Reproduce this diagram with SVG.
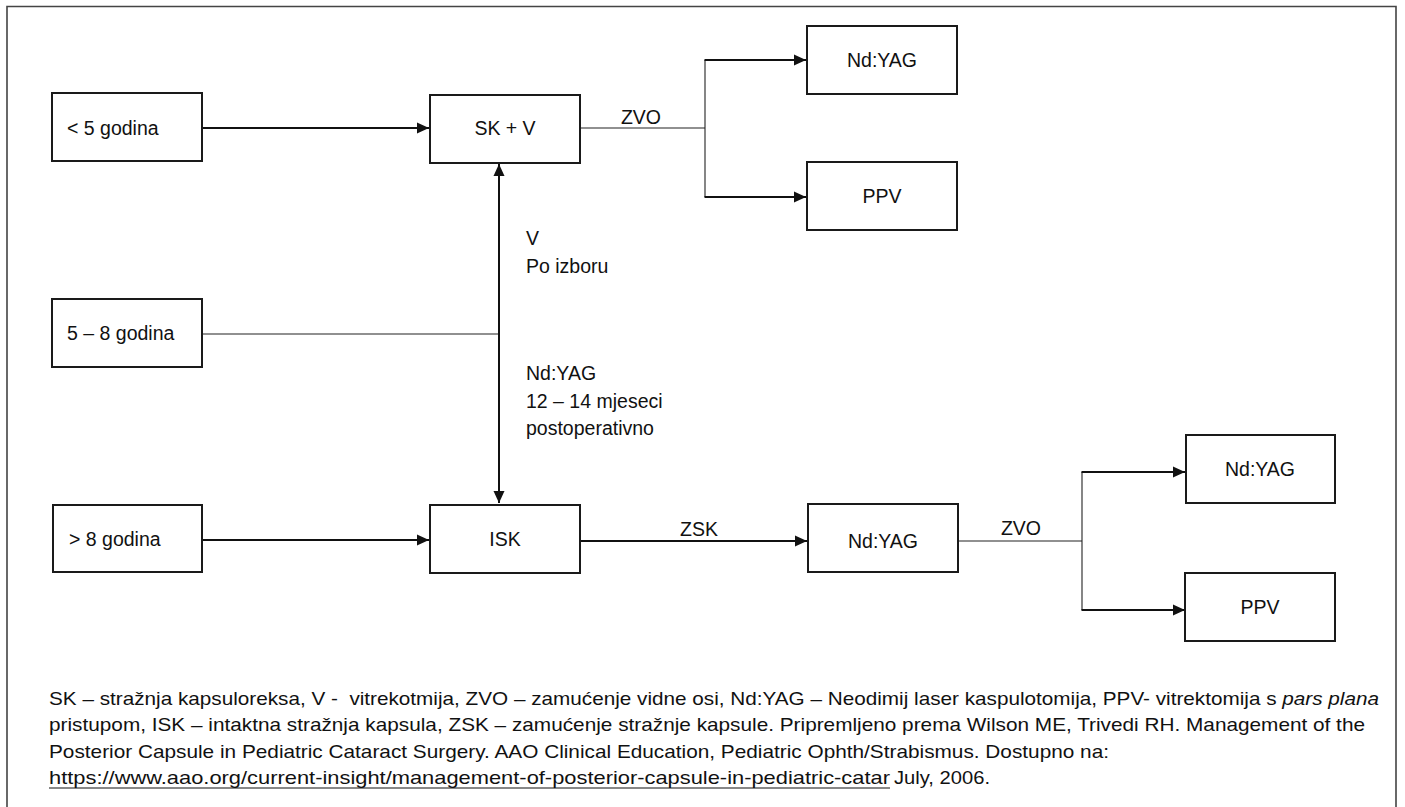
<svg xmlns="http://www.w3.org/2000/svg" width="1405" height="807" viewBox="0 0 1405 807">
<style>
text{font-family:"Liberation Sans",Arial,sans-serif;fill:#111;font-size:19.5px}
.box{fill:#fff;stroke:#1a1a1a;stroke-width:2}
.c{text-anchor:middle}
.thick{stroke:#111;stroke-width:2;fill:none}
.thin{stroke:#222;stroke-width:1.1;fill:none}
.note{font-size:19px}
</style>
<defs>
<marker id="ah" markerUnits="userSpaceOnUse" markerWidth="12" markerHeight="12" viewBox="0 0 12 12" refX="12" refY="6" orient="auto-start-reverse">
<path d="M0,0.5 L12,6 L0,11.5 z" fill="#111"/>
</marker>
</defs>
<rect width="1405" height="807" fill="#fff"/>
<path d="M7,812 V6.5 H1396 V812" fill="none" stroke="#444" stroke-width="1.6"/>

<g id="connectors">
<line class="thick" x1="202" y1="128" x2="429" y2="128" marker-end="url(#ah)"/>
<line class="thin" x1="580" y1="128" x2="705" y2="128"/>
<line class="thin" x1="705" y1="60" x2="705" y2="197"/>
<line class="thick" x1="704.5" y1="60" x2="806" y2="60" marker-end="url(#ah)"/>
<line class="thick" x1="704.5" y1="197" x2="806" y2="197" marker-end="url(#ah)"/>
<line class="thin" x1="202" y1="334" x2="499" y2="334"/>
<line class="thick" x1="499" y1="164" x2="499" y2="503" marker-start="url(#ah)" marker-end="url(#ah)"/>
<line class="thick" x1="202" y1="540" x2="429" y2="540" marker-end="url(#ah)"/>
<line class="thick" x1="580" y1="541" x2="807" y2="541" marker-end="url(#ah)"/>
<line class="thin" x1="959" y1="541" x2="1082" y2="541"/>
<line class="thin" x1="1082" y1="472" x2="1082" y2="610"/>
<line class="thick" x1="1081.5" y1="472" x2="1185" y2="472" marker-end="url(#ah)"/>
<line class="thick" x1="1081.5" y1="610" x2="1185" y2="610" marker-end="url(#ah)"/>
<text x="641" y="124" class="c">ZVO</text>
<text x="526" y="245">V</text>
<text x="526" y="273">Po izboru</text>
<text x="526" y="380">Nd:YAG</text>
<text x="526" y="408">12 – 14 mjeseci</text>
<text x="526" y="435">postoperativno</text>
<text x="699" y="536" class="c">ZSK</text>
<text x="1021" y="535" class="c">ZVO</text>
</g>

<g id="n_lt5"><rect class="box" x="52" y="93" width="150" height="68"/><text x="67" y="135">&lt; 5 godina</text></g>
<g id="n_5to8"><rect class="box" x="52" y="299" width="150" height="68"/><text x="67" y="340">5 – 8 godina</text></g>
<g id="n_gt8"><rect class="box" x="53" y="505" width="149" height="67"/><text x="69" y="546">&gt; 8 godina</text></g>
<g id="n_skv"><rect class="box" x="430" y="95" width="150" height="68"/><text x="505" y="135" class="c">SK + V</text></g>
<g id="n_isk"><rect class="box" x="430" y="505" width="150" height="68"/><text x="505" y="546" class="c">ISK</text></g>
<g id="n_ndyag1"><rect class="box" x="807" y="26" width="150" height="68"/><text x="882" y="67" class="c">Nd:YAG</text></g>
<g id="n_ppv1"><rect class="box" x="807" y="162" width="150" height="68"/><text x="882" y="203" class="c">PPV</text></g>
<g id="n_ndyag2"><rect class="box" x="808" y="504" width="150" height="68"/><text x="883" y="548" class="c">Nd:YAG</text></g>
<g id="n_ndyag3"><rect class="box" x="1186" y="435" width="149" height="68"/><text x="1260" y="476" class="c">Nd:YAG</text></g>
<g id="n_ppv2"><rect class="box" x="1185" y="573" width="150" height="68"/><text x="1260" y="614" class="c">PPV</text></g>

<g id="footnote">
<text class="note" x="49" y="705" xml:space="preserve" textLength="1330" lengthAdjust="spacingAndGlyphs">SK – stražnja kapsuloreksa, V -  vitrekotmija, ZVO – zamućenje vidne osi, Nd:YAG – Neodimij laser kaspulotomija, PPV- vitrektomija s <tspan font-style="italic">pars plana</tspan></text>
<text class="note" x="49" y="731" textLength="1316" lengthAdjust="spacingAndGlyphs">pristupom, ISK – intaktna stražnja kapsula, ZSK – zamućenje stražnje kapsule. Pripremljeno prema Wilson ME, Trivedi RH. Management of the</text>
<text class="note" x="49" y="758" textLength="1060" lengthAdjust="spacingAndGlyphs">Posterior Capsule in Pediatric Cataract Surgery. AAO Clinical Education, Pediatric Ophth/Strabismus. Dostupno na:</text>
<text class="note" x="49" y="784" textLength="841" lengthAdjust="spacingAndGlyphs">https://www.aao.org/current-insight/management-of-posterior-capsule-in-pediatric-catar</text>
<line x1="49" y1="788" x2="890" y2="788" stroke="#111" stroke-width="1.2"/>
<text class="note" x="894" y="784" textLength="96" lengthAdjust="spacingAndGlyphs">July, 2006.</text>
</g>
</svg>
